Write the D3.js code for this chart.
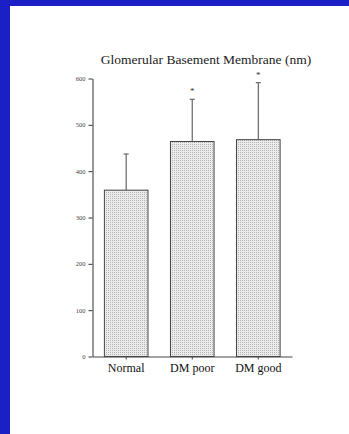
<!DOCTYPE html>
<html>
<head>
<meta charset="utf-8">
<script src="https://cdn.jsdelivr.net/npm/d3@7/dist/d3.min.js"></script>
<style>
  html, body { margin: 0; padding: 0; background: #fff; }
  svg { display: block; }
</style>
</head>
<body>
<svg id="chart" width="349" height="434"></svg>
<script>
// Glomerular basement membrane thickness by group (nm)
const categories = ["Normal", "DM poor", "DM good"];
const means = [359, 464, 468];
const errorTops = [437, 555, 591];
const significant = [false, true, true];
const yTicks = [0, 100, 200, 300, 400, 500, 600];
const title = "Glomerular Basement Membrane (nm)";

const svg = d3.select("#chart");
const W = 349, H = 434;

// frame: blue band along top and left edges
svg.append("rect").attr("x", 0).attr("y", 0).attr("width", W).attr("height", H).attr("fill", "#1a1fc6");
svg.append("rect").attr("x", 10).attr("y", 6).attr("width", W - 10).attr("height", H - 6).attr("fill", "#ffffff");

// stippled fill for the bars
const defs = svg.append("defs");
const pat = defs.append("pattern")
  .attr("id", "stipple").attr("patternUnits", "userSpaceOnUse")
  .attr("width", 2).attr("height", 2);
pat.append("rect").attr("width", 2).attr("height", 2).attr("fill", "#ececec");
pat.append("rect").attr("width", 1).attr("height", 1).attr("fill", "#b4b4b4");

const x0 = 92.5, x1 = 291.5, yBottom = 356.5, yTop = 78.5;

const y = d3.scaleLinear().domain([0, 600]).range([yBottom, yTop]);
const x = d3.scaleBand().domain(categories).range([x0, x1 + 0.5]).paddingInner(0.34).paddingOuter(0.18);

// title
svg.append("text")
  .attr("x", 206).attr("y", 64)
  .attr("text-anchor", "middle")
  .attr("font-family", "'Liberation Serif', 'Times New Roman', serif")
  .attr("font-size", 13.5)
  .attr("fill", "#222")
  .text(title);

// bars
svg.append("g").selectAll("rect")
  .data(categories)
  .join("rect")
  .attr("x", d => x(d))
  .attr("y", (d, i) => y(means[i]))
  .attr("width", x.bandwidth())
  .attr("height", (d, i) => y(0) - y(means[i]))
  .attr("fill", "url(#stipple)")
  .attr("stroke", "#444")
  .attr("stroke-width", 1);

// upper error bars
const eb = svg.append("g").attr("stroke", "#666").attr("stroke-width", 1.2);
categories.forEach((c, i) => {
  const cx = x(c) + x.bandwidth() / 2;
  eb.append("line").attr("x1", cx).attr("x2", cx).attr("y1", y(means[i])).attr("y2", y(errorTops[i]));
  eb.append("line").attr("x1", cx - 2.5).attr("x2", cx + 2.5).attr("y1", y(errorTops[i])).attr("y2", y(errorTops[i]));
});

// significance markers
svg.append("g").selectAll("text")
  .data(categories.filter((c, i) => significant[i]))
  .join("text")
  .attr("x", d => x(d) + x.bandwidth() / 2)
  .attr("y", d => y(errorTops[categories.indexOf(d)]) - 5)
  .attr("text-anchor", "middle")
  .attr("font-family", "'Liberation Serif', serif")
  .attr("font-size", 9)
  .attr("fill", "#333")
  .text("*");

// y axis
const yAxis = svg.append("g")
  .attr("transform", `translate(${x0},0)`)
  .call(d3.axisLeft(y).tickValues(yTicks).tickSize(4).tickSizeOuter(0).tickPadding(3));
yAxis.select(".domain").attr("stroke", "#333");
yAxis.selectAll(".tick line").attr("stroke", "#333");
yAxis.selectAll(".tick text")
  .attr("font-family", "'Liberation Serif', serif")
  .attr("font-size", 6.5)
  .attr("fill", "#444");

// x axis
const xAxis = svg.append("g")
  .attr("transform", `translate(0,${yBottom})`)
  .call(d3.axisBottom(x).tickSize(3).tickSizeOuter(0).tickPadding(4));
xAxis.select(".domain").attr("stroke", "#444");
xAxis.selectAll(".tick line").attr("stroke", "#444");
xAxis.selectAll(".tick text")
  .attr("font-family", "'Liberation Serif', 'Times New Roman', serif")
  .attr("font-size", 12)
  .attr("fill", "#111");
</script>
</body>
</html>
